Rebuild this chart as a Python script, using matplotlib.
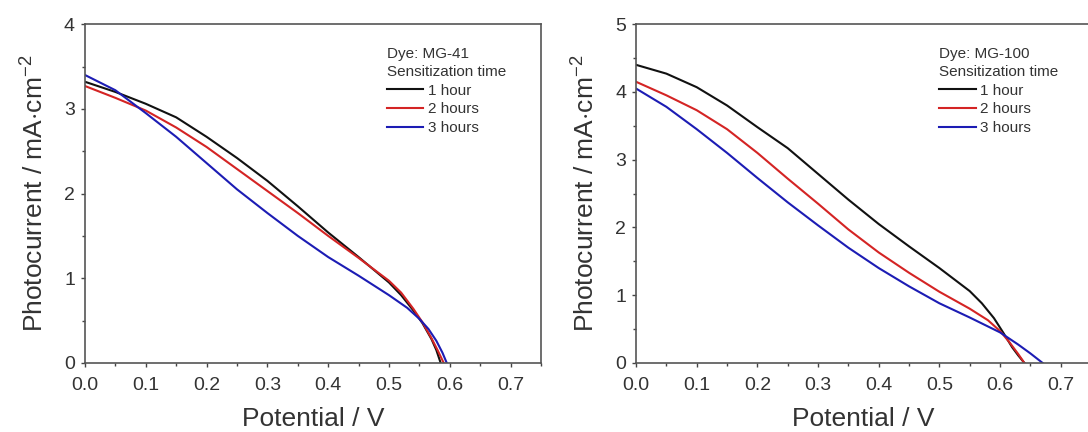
import matplotlib.pyplot as plt
from matplotlib.ticker import MultipleLocator

plt.rcParams["font.family"] = ["Liberation Sans", "DejaVu Sans"]
plt.rcParams["mathtext.fontset"] = "custom"
plt.rcParams["mathtext.rm"] = "Liberation Sans"
plt.rcParams["mathtext.it"] = "Liberation Sans"

# MG-41 panel
v41_1h = [0.0, 0.05, 0.1, 0.15, 0.2, 0.25, 0.3, 0.35, 0.4, 0.45, 0.5, 0.52, 0.54, 0.555, 0.57, 0.578, 0.585]
j41_1h = [3.32, 3.20, 3.06, 2.90, 2.67, 2.42, 2.15, 1.85, 1.54, 1.25, 0.95, 0.80, 0.62, 0.47, 0.28, 0.15, 0.0]
v41_2h = [0.0, 0.05, 0.1, 0.15, 0.2, 0.25, 0.3, 0.35, 0.4, 0.45, 0.5, 0.52, 0.54, 0.555, 0.57, 0.58, 0.59]
j41_2h = [3.27, 3.13, 2.98, 2.78, 2.55, 2.29, 2.03, 1.77, 1.50, 1.24, 0.97, 0.83, 0.64, 0.48, 0.29, 0.15, 0.0]
v41_3h = [0.0, 0.05, 0.1, 0.15, 0.2, 0.25, 0.3, 0.35, 0.4, 0.45, 0.5, 0.53, 0.55, 0.565, 0.578, 0.588, 0.595]
j41_3h = [3.40, 3.22, 2.95, 2.67, 2.36, 2.05, 1.77, 1.50, 1.25, 1.03, 0.80, 0.65, 0.52, 0.40, 0.26, 0.12, 0.0]

# MG-100 panel
v100_1h = [0.0, 0.05, 0.1, 0.15, 0.2, 0.25, 0.3, 0.35, 0.4, 0.45, 0.5, 0.55, 0.57, 0.59, 0.605, 0.62, 0.63, 0.64]
j100_1h = [4.40, 4.27, 4.07, 3.80, 3.48, 3.17, 2.79, 2.41, 2.05, 1.72, 1.40, 1.06, 0.88, 0.66, 0.45, 0.23, 0.11, 0.0]
v100_2h = [0.0, 0.05, 0.1, 0.15, 0.2, 0.25, 0.3, 0.35, 0.4, 0.45, 0.5, 0.55, 0.58, 0.6, 0.615, 0.63, 0.64]
j100_2h = [4.15, 3.95, 3.73, 3.45, 3.10, 2.72, 2.35, 1.97, 1.63, 1.33, 1.05, 0.80, 0.63, 0.47, 0.31, 0.13, 0.0]
v100_3h = [0.0, 0.05, 0.1, 0.15, 0.2, 0.25, 0.3, 0.35, 0.4, 0.45, 0.5, 0.55, 0.6, 0.63, 0.65, 0.67]
j100_3h = [4.05, 3.78, 3.45, 3.10, 2.73, 2.37, 2.03, 1.70, 1.40, 1.13, 0.88, 0.67, 0.45, 0.27, 0.14, 0.0]

labels = ["1 hour", "2 hours", "3 hours"]
colors = ["#111111", "#d42424", "#1c1cb4"]

panels = [
    ("Dye: MG-41", [(v41_1h, j41_1h), (v41_2h, j41_2h), (v41_3h, j41_3h)], 4,
     [0.0781, 0.160, 0.4191, 0.784], 0.662),
    ("Dye: MG-100", [(v100_1h, j100_1h), (v100_2h, j100_2h), (v100_3h, j100_3h)], 5,
     [0.5846, 0.160, 0.4182, 0.784], 0.666),
]

fig = plt.figure(figsize=(10.88, 4.32), dpi=100)
for dye, series, ymax, rect, lx in panels:
    ax = fig.add_axes(rect)
    for (v, j), lab, c in zip(series, labels, colors):
        ax.plot(v, j, color=c, lw=1.5, label=lab)
    ax.set_xlim(0, 0.75)
    ax.set_ylim(0, ymax)
    ax.xaxis.set_major_locator(MultipleLocator(0.1))
    ax.xaxis.set_minor_locator(MultipleLocator(0.05))
    ax.yaxis.set_major_locator(MultipleLocator(1))
    ax.yaxis.set_minor_locator(MultipleLocator(0.5))
    ax.xaxis.set_major_formatter(plt.FormatStrFormatter("%.1f"))
    ax.tick_params(which="major", length=3.2, width=1, color="#444444", labelsize=14, labelcolor="#333333")
    ax.tick_params(axis="x", which="major", pad=7)
    ax.tick_params(axis="y", which="major", pad=4)
    ax.tick_params(which="minor", length=2.5, width=1, color="#444444")
    ax.tick_params(top=False, right=False, which="both")
    for s in ax.spines.values():
        s.set_color("#555555")
        s.set_linewidth(1.2)
    ax.set_xlabel("Potential / V", fontsize=19, color="#333333", labelpad=9)
    ax.set_ylabel("Photocurrent / mA$\\cdot$cm$^{-2}$", fontsize=19, color="#333333", labelpad=11)
    leg = ax.legend(title=dye + "\nSensitization time", loc="upper left", bbox_to_anchor=(lx, 0.934),
                    frameon=False, fontsize=11, title_fontsize=11, handlelength=2.4,
                    handletextpad=0.3, labelspacing=0.32, borderpad=0, borderaxespad=0,
                    alignment="left", labelcolor="#333333")
    leg.get_title().set_color("#333333")
    leg.get_title().set_linespacing(1.37)

fig.savefig("out.png", dpi=100)
